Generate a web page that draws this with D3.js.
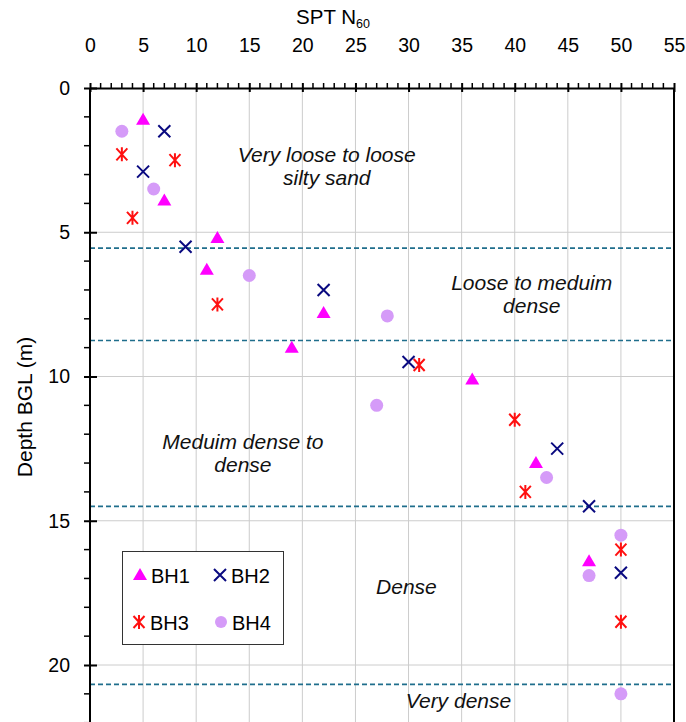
<!DOCTYPE html>
<html><head><meta charset="utf-8">
<script src="https://cdn.jsdelivr.net/npm/d3@7"></script>
<style>body{margin:0;background:#fff}svg{display:block;font-family:"Liberation Sans",Arial,sans-serif}</style>
</head><body><svg id="c" width="686" height="722"></svg>
<script>
const xTicks = [0,5,10,15,20,25,30,35,40,45,50,55];
const yTicks = [0,5,10,15,20];
const series = ["BH1","BH2","BH3","BH4"];
const bh1N = [5,7,12,11,22,19,36,42,47];
const bh1D = [1.1,3.9,5.2,6.3,7.8,9.0,10.1,13.0,16.4];
const bh2N = [7,5,9,22,30,44,47,50];
const bh2D = [1.5,2.9,5.5,7.0,9.5,12.5,14.5,16.8];
const bh3N = [3,8,4,12,31,40,41,50,50];
const bh3D = [2.3,2.5,4.5,7.5,9.6,11.5,14.0,16.0,18.5];
const bh4N = [3,6,15,28,27,43,50,47,50];
const bh4D = [1.5,3.5,6.5,7.9,11.0,13.5,15.5,16.9,21.0];
const boundaries = [5.55,8.75,14.5,20.67];
const zoneLabels = [
  {lines:["Very loose to loose","silty sand"], n:22.3, d:2.55},
  {lines:["Loose to meduim","dense"], n:41.6, d:7.0},
  {lines:["Meduim dense to","dense"], n:14.4, d:12.5},
  {lines:["Dense"], n:29.8, d:17.55},
  {lines:["Very dense"], n:34.7, d:21.5}
];

const svg = d3.select("#c");
const x = d3.scaleLinear().domain([0,55]).range([90,674]);
const y = d3.scaleLinear().domain([0,22]).range([88,722.7]);
const pLeft=90, pRight=674, pTop=88, pBottom=740;

// grid
const g = svg.append("g");
g.selectAll(".vg").data(xTicks.slice(1,-1)).join("line")
  .attr("x1",d=>x(d)).attr("x2",d=>x(d)).attr("y1",pTop).attr("y2",pBottom)
  .attr("stroke","#cccccc").attr("stroke-width",1);
g.selectAll(".hg").data(yTicks.slice(1)).join("line")
  .attr("x1",pLeft).attr("x2",pRight).attr("y1",d=>y(d)).attr("y2",d=>y(d))
  .attr("stroke","#cccccc").attr("stroke-width",1);

// boundaries
g.selectAll(".bd").data(boundaries).join("line")
  .attr("x1",pLeft).attr("x2",pRight).attr("y1",d=>y(d)).attr("y2",d=>y(d))
  .attr("stroke","#1f6e8c").attr("stroke-width",1.6).attr("stroke-dasharray","5,3");

// right border
svg.append("line").attr("x1",pRight).attr("x2",pRight).attr("y1",pTop).attr("y2",pBottom).attr("stroke","#000").attr("stroke-width",2);

// axes
const xAxis = d3.axisTop(x).tickValues(xTicks).tickSize(5).tickSizeOuter(0).tickPadding(30);
const xa = svg.append("g").attr("transform",`translate(0,${pTop})`).call(xAxis);
xa.selectAll("text").attr("font-size",19.5).attr("fill","#000").attr("font-family","Liberation Sans, Arial, sans-serif");
xa.select(".domain").attr("stroke","#000").attr("stroke-width",2);
xa.selectAll(".tick line").attr("stroke","#000").attr("stroke-width",2).attr("y1",4).attr("y2",-5);
const xMinor = d3.range(0,56).filter(v=>v%5!==0);
xa.selectAll(".mx").data(xMinor).join("line").attr("x1",d=>x(d)).attr("x2",d=>x(d)).attr("y1",0).attr("y2",-5).attr("stroke","#000").attr("stroke-width",1.5);
xa.selectAll(".tick text").attr("y",-36).attr("dy","0");

const yAxis = d3.axisLeft(y).tickValues(yTicks).tickSize(7).tickSizeOuter(0).tickPadding(13);
const ya = svg.append("g").attr("transform",`translate(${pLeft},0)`).call(yAxis);
ya.select(".domain").attr("stroke","#000").attr("stroke-width",2).attr("d",`M0,${pTop}V${pBottom}`);
ya.selectAll(".tick line").attr("stroke","#000").attr("stroke-width",2).attr("x1",7).attr("x2",-6);
ya.selectAll("text").attr("font-size",19.5).attr("fill","#000").attr("font-family","Liberation Sans, Arial, sans-serif");
const yMinor = d3.range(0,23).filter(v=>v%5!==0);
ya.selectAll(".my").data(yMinor).join("line").attr("x1",0).attr("x2",-6).attr("y1",d=>y(d)).attr("y2",d=>y(d)).attr("stroke","#000").attr("stroke-width",1.5);

// titles
const tt = svg.append("text").attr("x",333).attr("y",24).attr("text-anchor","middle").attr("font-size",20.5);
tt.append("tspan").text("SPT N");
tt.append("tspan").text("60").attr("font-size",12.5).attr("dy",4);
svg.append("text").attr("transform","translate(32,407) rotate(-90)").attr("text-anchor","middle").attr("font-size",21).text("Depth BGL (m)");

// zone labels
zoneLabels.forEach(z=>{
  const t = svg.append("text").attr("text-anchor","middle").attr("font-size",21).attr("font-style","italic").attr("fill","#111");
  z.lines.forEach((l,i)=>t.append("tspan").attr("x",x(z.n)).attr("y",y(z.d)+i*23).text(l));
});

// markers
const triPath = "M0,-7L7,5L-7,5Z";
const xPath = "M-6,-6L6,6M-6,6L6,-6";
const astPath = "M-5.5,-6L5.5,6M-5.5,6L5.5,-6M0,-7V7";
function drawSeries(ns, ds, type, gg){
  const data = ns.map((n,i)=>({n, d:ds[i]}));
  const sel = gg.selectAll(null).data(data).join(type==="circle"?"circle":"path");
  if(type==="circle"){
    sel.attr("cx",p=>x(p.n)).attr("cy",p=>y(p.d)).attr("r",6.5).attr("fill","#d59bf8");
  } else if(type==="tri"){
    sel.attr("d",triPath).attr("transform",p=>`translate(${x(p.n)},${y(p.d)})`).attr("fill","#ff00ff");
  } else if(type==="x"){
    sel.attr("d",xPath).attr("transform",p=>`translate(${x(p.n)},${y(p.d)})`).attr("stroke","#0a0a80").attr("stroke-width",2).attr("fill","none");
  } else {
    sel.attr("d",astPath).attr("transform",p=>`translate(${x(p.n)},${y(p.d)})`).attr("stroke","#ff1010").attr("stroke-width",2).attr("fill","none");
  }
}
const mk = svg.append("g");
drawSeries(bh4N,bh4D,"circle",mk);
drawSeries(bh3N,bh3D,"ast",mk);
drawSeries(bh2N,bh2D,"x",mk);
drawSeries(bh1N,bh1D,"tri",mk);

// legend
const lg = svg.append("g");
lg.append("rect").attr("x",122.5).attr("y",551.5).attr("width",161).attr("height",93).attr("fill","#fff").attr("stroke","#333").attr("stroke-width",1);
const legendItems = [
  {name:series[0], type:"tri", lx:140, ly:575},
  {name:series[1], type:"x", lx:220, ly:575},
  {name:series[2], type:"ast", lx:139, ly:622},
  {name:series[3], type:"circle", lx:221, ly:622}
];
legendItems.forEach(it=>{
  const gg = lg.append("g");
  if(it.type==="circle") gg.append("circle").attr("cx",it.lx).attr("cy",it.ly).attr("r",6).attr("fill","#d59bf8");
  else if(it.type==="tri") gg.append("path").attr("d",triPath).attr("transform",`translate(${it.lx},${it.ly})`).attr("fill","#ff00ff");
  else if(it.type==="x") gg.append("path").attr("d",xPath).attr("transform",`translate(${it.lx},${it.ly})`).attr("stroke","#0a0a80").attr("stroke-width",2).attr("fill","none");
  else gg.append("path").attr("d",astPath).attr("transform",`translate(${it.lx},${it.ly})`).attr("stroke","#ff1010").attr("stroke-width",2).attr("fill","none");
  gg.append("text").attr("x",it.lx+11).attr("y",it.ly+7.5).attr("font-size",20).text(it.name);
});
</script></body></html>
